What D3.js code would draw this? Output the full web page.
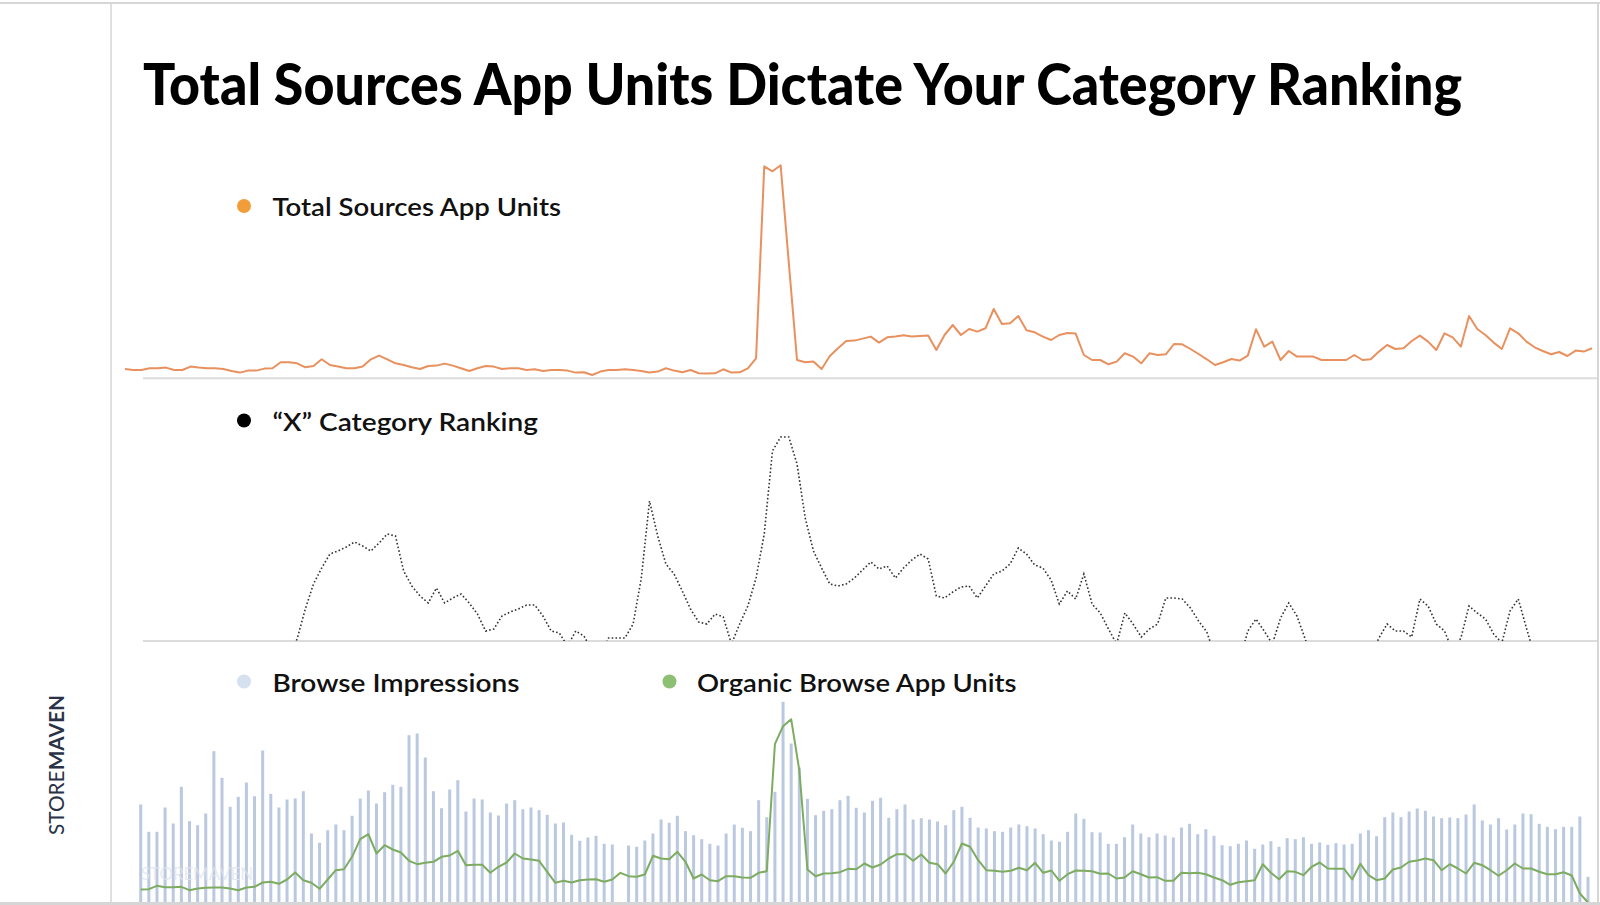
<!DOCTYPE html>
<html>
<head>
<meta charset="utf-8">
<script src="https://cdn.jsdelivr.net/npm/d3@7"></script>
<style>
  html, body { margin: 0; padding: 0; background: #ffffff; }
  svg { display: block; }
</style>
</head>
<body>
<svg id="chart" width="1600" height="905"></svg>
<script>
// ---------------- DATA (arbitrary units) ----------------
const titleText = "Total Sources App Units Dictate Your Category Ranking";
const legendLabels = ["Total Sources App Units", "\u201CX\u201D Category Ranking", "Browse Impressions", "Organic Browse App Units"];
const brandStore = "STORE";
const brandMaven = "MAVEN";

// daily Total Sources App Units (180 days)
const totalSourcesAppUnits = [
  9.3,8.3,8.3,10,10,10.7,8.3,8.3,11.7,10.7,10,10,9.3,7.3,5.7,7.7,7.7,9.7,10,16,
  16,15,11,12.3,19,13.3,11.7,10,10,11.7,19,22.7,19,15,13.3,11,9.3,12.3,12.7,14.7,
  12.7,10,7.3,10,12.3,11.7,9.3,10,10,8.3,9,7.3,8.3,8.3,7.7,5.7,6,3.3,6.7,8.3,
  8.3,9,8.3,7.3,5.7,6.7,10,7.7,6,8.3,5,4.7,5,9,5.7,6,10,20,212,207,
  213,115,18.3,16,16.7,9.3,22.3,30,37.3,37.7,39.7,41.7,35.7,41,41.7,43,41.7,42.3,42.7,28.3,
  43.3,53.3,43.3,49.3,46.7,50,69.3,54.3,55,62.3,48,46,41.7,38.3,43.3,45.3,44.7,23.3,18.3,18.3,
  14,16.7,25,21.7,15,25,23.3,24,34.3,34,29.3,24.3,19,13.3,16,19.3,17.7,22.7,49,31.7,
  36.7,18.3,27.3,21.7,21.7,21.7,18.3,18.3,18.3,18.3,23.3,18.3,19,26.7,33.3,29.3,30,37.3,42.7,36.7,
  28.3,45,41,31.7,62.3,49.3,43.3,35.7,29.3,50,45,36.7,31,27.3,24,26.3,22.3,27.7,26.7,30
];

// daily "X" category ranking position (higher = better rank; below 0 = out of the shown range)
const categoryRanking = [
  -30,-30,-30,-30,-30,-30,-30,-30,-30,-30,-30,-30,-30,-30,-30,-30,-30,-30,-30,-30,
  -15,2,32,57,73,87,90,94,99,95,90,98,107,105,70,55,45,38,53,38,
  43,47,38,27,10,12,25,29,32,36,36,25,10,8,-5,10,5,-10,-15,3,
  3,3,17,63,140,105,77,67,50,32,19,17,27,24,-3,17,35,63,107,190,
  204,204,177,123,90,73,57,55,57,63,71,79,72,75,63,73,81,87,82,45,
  43,49,54,55,43,55,67,70,77,93,87,76,73,61,37,50,42,67,37,28,
  12,-3,28,17,4,12,17,43,43,42,33,20,9,-15,-30,-30,-20,10,22,10,
  -3,23,38,25,2,-20,-30,-30,-30,-30,-30,-30,-15,3,17,10,10,4,42,35,
  17,10,-10,3,35,28,22,7,-2,30,42,13,-15,-30,-30,-30,-30,-30,-30,-30
];

// daily Browse Impressions (179 days)
const browseImpressions = [
  98,70.7,70.7,95,79,115.7,81.3,77.3,89,151.3,124.7,95.7,105.7,120,106.3,152,108.7,95,103,104,
  111.3,69,59.7,72.3,78,72.3,86.7,104,112,99,110.3,117.7,115.7,167.3,169,145,111.3,94.3,113,122.3,
  91,104,103,90,87,99,102.3,93.3,95,92.3,87.7,79,80,67.7,61.7,65,66.7,58.7,58,0,
  57,55.7,62,69,83,79.7,86.7,71.3,67.3,63.3,58.7,57,69,78,74.7,71.3,102.3,85.3,110.7,200.7,
  159,135,103.7,87.3,91.7,93.3,102.3,106.7,94.7,90,101.7,104.7,84.7,93.3,98,83,84.3,83,81,77.3,
  92.3,95.7,84.7,75,74,71.3,70.7,75,78,76.3,74,68.3,62,60.7,70.7,89,83.7,70.3,70,58.7,
  58.7,65.3,78,69,65.3,69,67,65,75,78.7,68.3,73.3,66.7,57.3,56.3,58.7,62,53.7,58,61.3,
  55.7,64.3,63.3,65.3,58.7,60,57.7,59.3,58,58.7,69,72.3,66.3,85.3,90,85.3,91,94,91.7,86,
  84.3,85,84.3,88,98,82,78,84.3,73,78,89,88.3,78.7,75.7,73.3,75.7,75.7,86,25.7
];

// daily Organic Browse App Units (179 days)
const organicBrowseAppUnits = [
  13,13.3,16.7,15.3,15.3,15.7,12.3,14,14.7,15,15,14,12.3,15,15.7,20,20.7,18.7,23,30,
  22.3,19.7,13.7,23,32.3,33.3,45.7,63.3,68.3,49,57.3,53,50,41.7,38.3,39.7,40.7,45.7,47,51.7,
  37.3,37.7,37.7,29.7,35.7,40,49,44,43,41.7,30.7,19.7,21.7,20,22.3,23,23.3,20.7,23,29.7,
  26.3,25.7,28,46.7,44,43.3,50.7,40.7,24,28,22.3,21.3,26.3,26.3,25,24.7,29.7,31.3,158.3,176.3,
  183.3,132.3,33,26.3,29,29.3,30.3,33.7,33.3,39,35,38,44,48.3,48.3,41.7,48,39.7,38.3,29,
  40.7,59,55.7,42.3,32.3,31.7,30.7,31.7,34.7,32.3,39.7,29.7,32,21.7,28.3,32,31.7,31.3,28.7,29,
  24,25,31.3,28.3,25,25.3,21.7,21.7,29.7,29.3,29.7,28.3,25,22.3,17.7,20.3,21.3,22.3,38.3,29.7,
  23.3,31.3,30.7,27.3,35.7,40,34,33.7,33.7,23,38.7,27.3,22.3,24,33,35,40.7,42,44,42.3,
  32.3,38.3,34,29,39.7,37.3,32.3,26.7,32.3,39,34,34,30.7,28.3,28.3,30.3,27,9,0
];

// ---------------- STYLE ----------------
const C = {
  frame: "#d6d6d6",
  axis: "#dcdcdc",
  orangeLine: "#e8915f",
  orangeDot: "#f19d3a",
  rank: "#333333",
  bar: "#bac9e0",
  barDot: "#d6e1f0",
  green: "#7dac60",
  greenDot: "#8dc072",
  text: "#111111",
  brand: "#2a3248"
};
const FONT = "Lato, 'Noto Sans', 'DejaVu Sans', sans-serif";

const svg = d3.select("#chart");

// fit a text element to an exact width
function fit(sel, w) {
  const node = sel.node();
  const len = node.getComputedTextLength();
  if (len > 0) sel.attr("textLength", w).attr("lengthAdjust", "spacingAndGlyphs");
  return sel;
}

// ---------------- FRAME ----------------
svg.append("rect").attr("x", 0).attr("y", 0).attr("width", 1600).attr("height", 905).attr("fill", "#fff");
svg.append("line").attr("x1", 0).attr("x2", 1600).attr("y1", 3).attr("y2", 3)
  .attr("stroke", C.frame).attr("stroke-width", 2);
svg.append("line").attr("x1", 111).attr("x2", 111).attr("y1", 3).attr("y2", 905)
  .attr("stroke", C.frame).attr("stroke-width", 1.5);
svg.append("line").attr("x1", 1598).attr("x2", 1598).attr("y1", 3).attr("y2", 905)
  .attr("stroke", C.frame).attr("stroke-width", 2);

// ---------------- TITLE ----------------
fit(svg.append("text").attr("x", 143).attr("y", 105)
  .attr("font-family", FONT).attr("font-weight", 900).attr("font-size", 58)
  .attr("fill", "#000").text(titleText), 1319);

// ---------------- SCALES ----------------
const xTop = d3.scaleLinear().domain([0, totalSourcesAppUnits.length - 1]).range([125, 1592]);
const yUnits = d3.scaleLinear().domain([0, 213]).range([378.3, 165.3]);
const yRank = d3.scaleLinear().domain([0, 205]).range([641, 436]);
const xBar = d3.scaleLinear().domain([0, browseImpressions.length - 1]).range([140.7, 1588]);
const yBottom = d3.scaleLinear().domain([0, 200]).range([902.5, 702.5]);

// ---------------- PANEL 1 ----------------
svg.append("line").attr("x1", 143).attr("x2", 1597).attr("y1", yUnits(0)).attr("y2", yUnits(0))
  .attr("stroke", C.axis).attr("stroke-width", 2);
svg.append("path").datum(totalSourcesAppUnits)
  .attr("d", d3.line().x((d, i) => xTop(i)).y(d => yUnits(d)))
  .attr("fill", "none").attr("stroke", C.orangeLine).attr("stroke-width", 2)
  .attr("stroke-linejoin", "round");

// ---------------- PANEL 2 ----------------
svg.append("clipPath").attr("id", "rankClip").append("rect")
  .attr("x", 111).attr("y", 400).attr("width", 1487).attr("height", yRank(0) - 400);
svg.append("line").attr("x1", 143).attr("x2", 1597).attr("y1", yRank(0)).attr("y2", yRank(0))
  .attr("stroke", C.axis).attr("stroke-width", 2);
svg.append("path").datum(categoryRanking)
  .attr("clip-path", "url(#rankClip)")
  .attr("d", d3.line().x((d, i) => xTop(i)).y(d => yRank(d)))
  .attr("fill", "none").attr("stroke", C.rank).attr("stroke-width", 1.6)
  .attr("stroke-dasharray", "1.6,2.2");

// ---------------- PANEL 3 ----------------
svg.append("g").selectAll("rect").data(browseImpressions).join("rect")
  .attr("x", (d, i) => xBar(i) - 1.5)
  .attr("y", d => yBottom(d))
  .attr("width", 3)
  .attr("height", d => yBottom(0) - yBottom(d))
  .attr("fill", C.bar);

// faint watermark
fit(svg.append("text").attr("x", 141).attr("y", 880)
  .attr("font-family", FONT).attr("font-weight", 400).attr("font-size", 18)
  .attr("fill", "#dfe5ee").attr("opacity", 0.75).text(brandStore + brandMaven), 112);

svg.append("path").datum(organicBrowseAppUnits)
  .attr("d", d3.line().x((d, i) => xBar(i)).y(d => yBottom(d)))
  .attr("fill", "none").attr("stroke", C.green).attr("stroke-width", 2)
  .attr("stroke-linejoin", "round");

svg.append("line").attr("x1", 0).attr("x2", 1600).attr("y1", 903.5).attr("y2", 903.5)
  .attr("stroke", C.frame).attr("stroke-width", 3);

// ---------------- LEGENDS ----------------
const legendItems = [
  { label: legendLabels[0], color: C.orangeDot, cx: 244, cy: 206, tx: 272.5, ty: 216, w: 288.5 },
  { label: legendLabels[1], color: "#000000", cx: 244, cy: 420.5, tx: 272.5, ty: 430.5, w: 265.5 },
  { label: legendLabels[2], color: C.barDot, cx: 244, cy: 681.5, tx: 272.5, ty: 692, w: 247 },
  { label: legendLabels[3], color: C.greenDot, cx: 669.5, cy: 681.5, tx: 697, ty: 692, w: 319.5 }
];
const lg = svg.append("g");
legendItems.forEach(it => {
  lg.append("circle").attr("cx", it.cx).attr("cy", it.cy).attr("r", 7).attr("fill", it.color);
  fit(lg.append("text").attr("x", it.tx).attr("y", it.ty)
    .attr("font-family", FONT).attr("font-weight", 600).attr("font-size", 25.5)
    .attr("fill", C.text).text(it.label), it.w);
});

// ---------------- BRAND ----------------
const brand = svg.append("text")
  .attr("transform", "translate(63.5,835) rotate(-90)")
  .attr("font-family", FONT).attr("font-size", 21.5).attr("fill", C.brand);
brand.append("tspan").attr("font-weight", 400).text(brandStore);
brand.append("tspan").attr("font-weight", 700).text(brandMaven);
fit(brand, 140);
</script>
</body>
</html>
